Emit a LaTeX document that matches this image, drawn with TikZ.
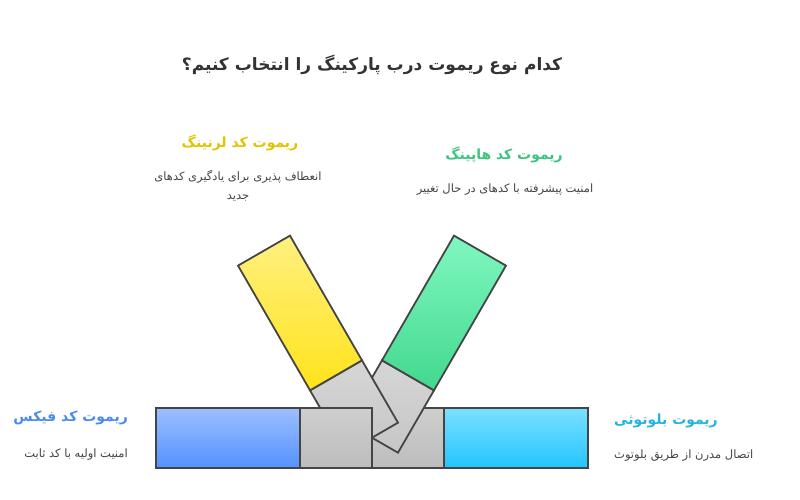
\documentclass[tikz,border=0pt]{standalone}
\usepackage{fontspec}
\usepackage{tikz}
\TeXXeTstate=1
\newfontfamily\arabicfont[Script=Arabic]{DejaVu Sans}
\definecolor{contour}{HTML}{454545}
\definecolor{titre}{HTML}{333333}
\definecolor{texte}{HTML}{444444}
\definecolor{jaune}{HTML}{E3C300}
\definecolor{vertt}{HTML}{3DC483}
\definecolor{bleut}{HTML}{4A8AEE}
\definecolor{cyant}{HTML}{25B3E2}
\tikzset{arm/.style={draw=contour,line width=1.8pt,line join=miter}}

\begin{document}
\begin{tikzpicture}[x=1pt,y=1pt]%
        \useasboundingbox (0,0) rectangle (800,500);%%
        % bras : droite, haut-droite, haut-gauche, gauche
        \begin{scope}[shift={(372,62.3)},rotate=0]
        \shade[arm,top color=gray!38,bottom color=gray!52] (0,-30) rectangle (72,30);%%
        \shade[arm,top color={rgb,255:red,124;green,224;blue,255},bottom color={rgb,255:red,34;green,197;blue,255}] (72,-30) rectangle (216,30);%%
        \end{scope}
        \begin{scope}[shift={(372,62.3)},rotate=60]
        \shade[arm,top color=gray!32,bottom color=gray!45] (0,-30) rectangle (72,30);%%
        \shade[arm,top color={rgb,255:red,128;green,247;blue,192},bottom color={rgb,255:red,66;green,216;blue,142}] (72,-30) rectangle (216,30);%%
        \end{scope}
        \begin{scope}[shift={(372,62.3)},rotate=120]
        \shade[arm,top color=gray!32,bottom color=gray!45] (0,-30) rectangle (72,30);%%
        \shade[arm,top color={rgb,255:red,255;green,240;blue,128},bottom color={rgb,255:red,255;green,227;blue,26}] (72,-30) rectangle (216,30);%%
        \end{scope}
        \begin{scope}[shift={(372,62.3)},rotate=180]
        \shade[arm,top color=gray!38,bottom color=gray!52] (0,-30) rectangle (72,30);%%
        \shade[arm,top color={rgb,255:red,156;green,191;blue,255},bottom color={rgb,255:red,85;green,146;blue,255}] (72,-30) rectangle (216,30);%%
        \end{scope}
        % textes
        \node[font=\arabicfont\bfseries\fontsize{17}{20}\selectfont,text=titre] (title) at (372,435) {\beginR کدام نوع ریموت درب پارکینگ را انتخاب کنیم؟\endR};%%
        \begin{scope}[inner sep=0pt]
        \tikzstyle{every node}=[font=\arabicfont\bfseries\fontsize{14}{16}\selectfont] %%
        \node[text=jaune] (lrn) at (240,357) {\beginR ریموت کد لرنینگ\endR}; %%
        \node[text=vertt] (hop) at (504,345) {\beginR ریموت کد هاپینگ\endR}; %%
        \node[text=bleut,anchor=east] (fix) at (128,82) {\beginR ریموت کد فیکس\endR}; %%
        \node[text=cyant,anchor=west] (blt) at (614,79) {\beginR ریموت بلوتوثی\endR}; %%
        \end{scope}
        \begin{scope}[inner sep=0pt]
        \tikzstyle{every node}=[font=\arabicfont\fontsize{11.5}{19}\selectfont,text=texte] %%
        \node[align=center] (lrnd) at (238,314) {\beginR انعطاف پذیری برای یادگیری کدهای\endR\\\beginR جدید\endR}; %%
        \node (hopd) at (505,310) {\beginR امنیت پیشرفته با کدهای در حال تغییر\endR}; %%
        \node[anchor=east] (fixd) at (128,45) {\beginR امنیت اولیه با کد ثابت\endR}; %%
        \node[anchor=west] (bltd) at (614,44) {\beginR اتصال مدرن از طریق بلوتوث\endR}; %%
        \end{scope}
\end{tikzpicture}
\end{document}
